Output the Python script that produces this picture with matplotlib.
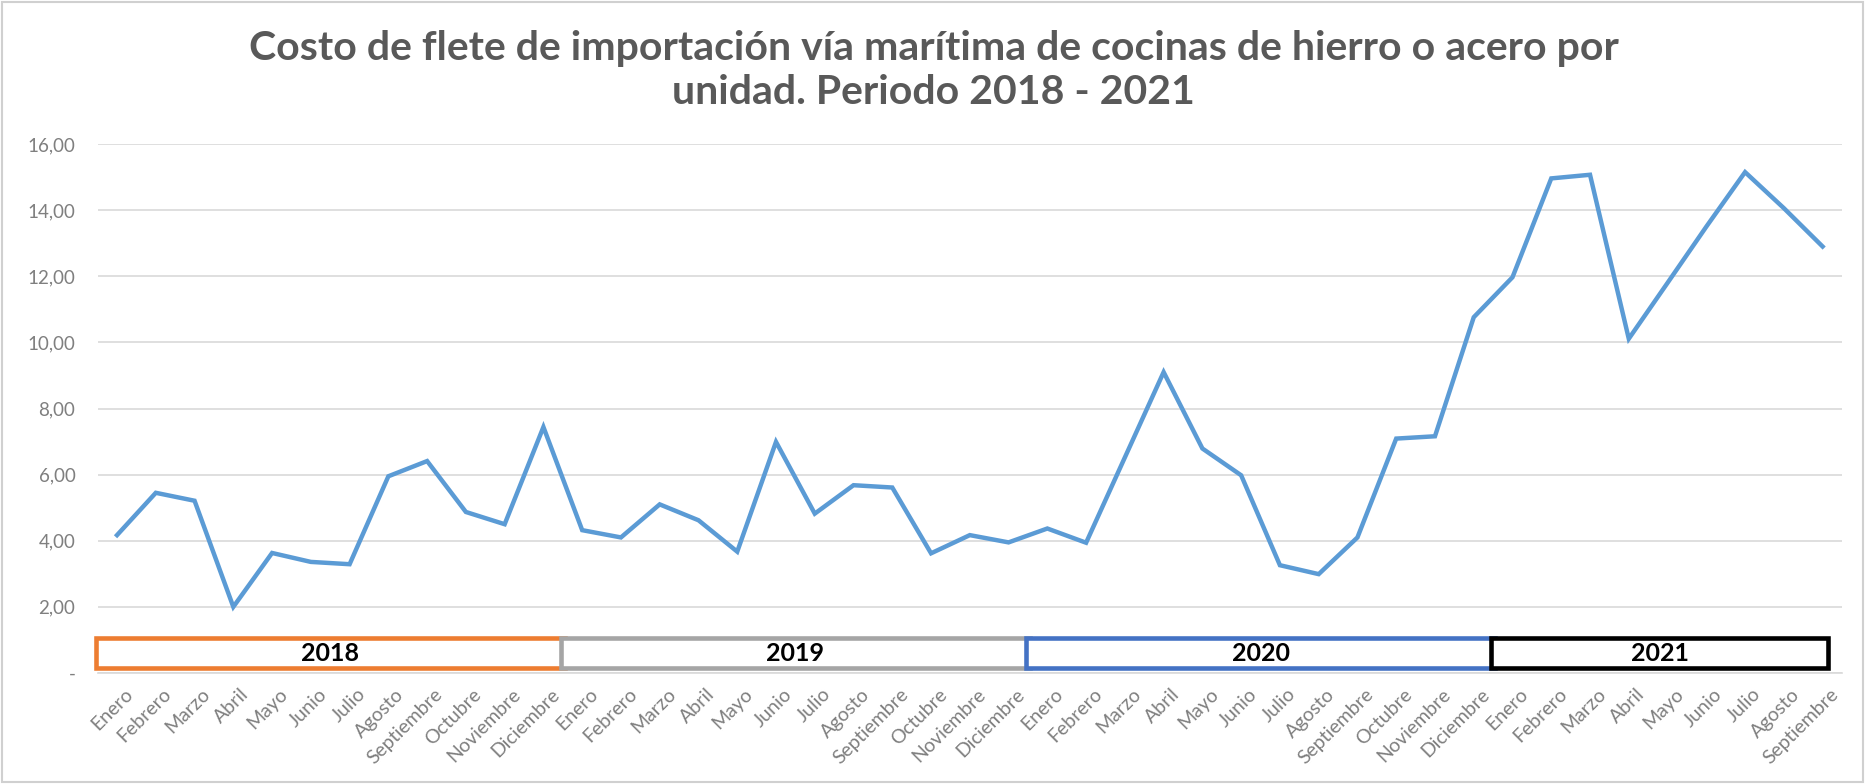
import matplotlib
matplotlib.use("Agg")
import matplotlib.pyplot as plt
import matplotlib.transforms as mtransforms
from matplotlib.patches import Rectangle
from matplotlib.ticker import FuncFormatter

plt.rcParams['font.family'] = ['Lato', 'DejaVu Sans']

# monthly freight cost per unit, Jan 2018 - Sep 2021
meses = ['Enero', 'Febrero', 'Marzo', 'Abril', 'Mayo', 'Junio', 'Julio',
         'Agosto', 'Septiembre', 'Octubre', 'Noviembre', 'Diciembre']
etiquetas = meses * 3 + meses[:9]
costo = [4.17, 5.45, 5.21, 2.00, 3.63, 3.36, 3.29, 5.95, 6.41, 4.87, 4.50, 7.44,
         4.32, 4.10, 5.10, 4.62, 3.67, 6.99, 4.82, 5.68, 5.61, 3.62, 4.17, 3.95,
         4.37, 3.94, 6.52, 9.10, 6.79, 5.98, 3.26, 2.99, 4.10, 7.09, 7.16, 10.76,
         11.97, 14.96, 15.07, 10.11, 11.80, 13.50, 15.15, 14.06, 12.90]
anios = ['2018', '2019', '2020', '2021']
meses_por_anio = [12, 12, 12, 9]
colores_anio = ['#ED7D31', '#A5A5A5', '#4472C4', '#000000']

GRIS = '#7f7f7f'

fig = plt.figure(figsize=(18.67, 7.84), dpi=100)
ax = fig.add_axes([0.0523, 0.1416, 0.9343, 0.6747])

x = list(range(len(costo)))
ax.plot(x, costo, color='#5B9BD5', lw=3.2, solid_joinstyle='miter', zorder=3)

ax.set_xlim(-0.5, len(costo) - 0.5)
ax.set_ylim(0, 16)
ax.set_yticks(range(0, 17, 2))
ax.yaxis.set_major_formatter(FuncFormatter(
    lambda v, p: '-' if v == 0 else f'{v:.2f}'.replace('.', ',')))
ax.grid(axis='y', color='#d9d9d9', lw=1.2)
ax.set_axisbelow(True)
for s in ['top', 'right', 'left']:
    ax.spines[s].set_visible(False)
ax.spines['bottom'].set_color('#d9d9d9')
ax.spines['bottom'].set_linewidth(1.2)

ax.set_xticks(x)
ax.set_xticklabels(etiquetas, rotation=45, ha='right', va='top',
                   rotation_mode='anchor', fontsize=14, color=GRIS)
ax.tick_params(axis='x', length=0, pad=9)
ax.tick_params(axis='y', length=0, pad=16, labelsize=13.5, labelcolor=GRIS)
shift = mtransforms.ScaledTranslation(7 / 100, 0, fig.dpi_scale_trans)
for lbl in ax.get_xticklabels():
    lbl.set_transform(lbl.get_transform() + shift)

# year boxes under the line
inicio = 0
for anio, n, col in zip(anios, meses_por_anio, colores_anio):
    izq = inicio - 0.55
    der = inicio + n - 0.45 if inicio + n < len(costo) else inicio + n - 0.85
    ax.add_patch(Rectangle((izq, 0.15), der - izq, 0.9, facecolor='white',
                           edgecolor=col, lw=3.3, zorder=4, clip_on=False))
    ax.text((izq + der) / 2, 0.6, anio, ha='center', va='center',
            fontsize=18, fontweight='bold', color='black', zorder=5)
    inicio += n

fig.text(0.5, 0.91,
         'Costo de flete de importación vía marítima de cocinas de hierro o acero por\n'
         'unidad. Periodo 2018 - 2021',
         ha='center', va='center', fontsize=29.5, fontweight='bold',
         color='#595959', linespacing=1.25)

fig.add_artist(Rectangle((0.001, 0.002), 0.997, 0.996, transform=fig.transFigure,
                         fill=False, edgecolor='#d0d0d0', lw=1.5))

fig.savefig('out.png', dpi=100, facecolor='white')
